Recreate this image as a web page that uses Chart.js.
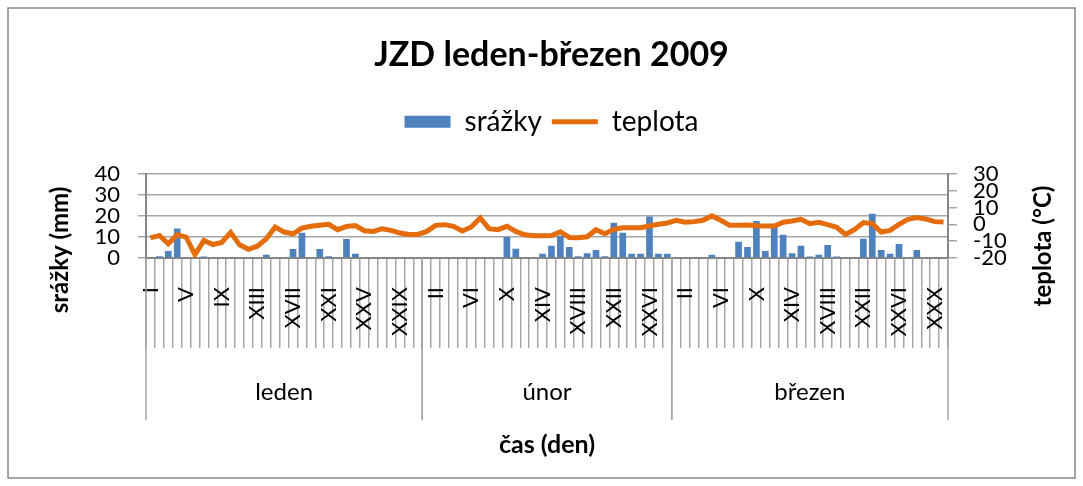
<!DOCTYPE html>
<html>
<head>
<meta charset="utf-8">
<script src="https://cdn.jsdelivr.net/npm/chart.js@4.4.1/dist/chart.umd.min.js"></script>
<style>
  html, body { margin: 0; padding: 0; background: #fff; }
</style>
</head>
<body>
<canvas id="graf" width="1083" height="486"></canvas>
<script>
// ---------- data ----------
const dnyRimsky = ['I','II','III','IV','V','VI','VII','VIII','IX','X','XI','XII','XIII','XIV','XV','XVI',
  'XVII','XVIII','XIX','XX','XXI','XXII','XXIII','XXIV','XXV','XXVI','XXVII','XXVIII','XXIX','XXX','XXXI'];
const mesice = ['leden', 'únor', 'březen'];
const delkyMesicu = [31, 28, 31];

// srážky (mm)
const srazkyLeden = [0,0.8,3.3,14,0,0,0.7,0,0,0,0,0,0,1.5,0,0,4.3,12,0,4.3,0.8,0,9,2,0,0,0,0,0,0,0];
const srazkyUnor = [0,0,0,0,0,0,0,0,0,10,4.4,0,0,2,5.8,10.6,5.2,0.8,2.3,3.8,0.8,16.7,12,2,2,19.7,2,2];
const srazkyBrezen = [0,0,0,0,1.5,0,0,7.7,5.2,17.6,3.3,15.5,11,2.3,5.8,0.7,1.5,6.2,0.7,0,0,9.2,21,3.8,2,6.7,0,3.8,0,0,0];

// teplota (°C)
const teplotaLeden = [-8.1,-6.6,-11.6,-6.2,-7.6,-18,-9.6,-12,-10.8,-4.8,-12.2,-14.8,-13,-8.6,-1.6,-4.6,
  -5.6,-2.2,-1.2,-0.6,0,-3.2,-1.2,-0.8,-3.8,-4.2,-2.6,-3.6,-5.2,-6,-6];
const teplotaUnor = [-4.2,-0.6,-0.2,-1.2,-4,-1.6,3.8,-2.6,-3.2,-1.2,-4.2,-6.2,-6.8,-6.8,-6.6,-4.4,
  -7.8,-8,-7.4,-3.2,-5.6,-3,-2,-2,-2,-1,0,0.8];
const teplotaBrezen = [2.4,1.2,1.6,2.4,5,2.4,-0.6,-0.6,-0.4,-0.8,-1,-1,1.2,2,3,0.4,1.2,-0.2,-1.8,-6,
  -3.2,1,0.4,-4.6,-3.6,0,3,4,3.2,1.6,1.4];

const popisky = [];
delkyMesicu.forEach(n => popisky.push(...dnyRimsky.slice(0, n)));
const srazky = [...srazkyLeden, ...srazkyUnor, ...srazkyBrezen];
const teplota = [...teplotaLeden, ...teplotaUnor, ...teplotaBrezen];

const MODRA = '#4f81bd';
const ORANZOVA = '#e46c0a';
const SEDA = '#a6a6a6';
const OSA = '#868686';
const PISMO = 'Lato';

// ---------- plugin: okraj, skupiny mesicu, nazvy os ----------
const ramecek = {
  id: 'ramecek',
  afterInit(chart) {
    // extra mezera pod legendou
    const fit = chart.legend.fit;
    chart.legend.fit = function () { fit.call(this); this.height += 28; };
  },
  beforeDraw(chart) {
    const ctx = chart.ctx;
    ctx.save();
    ctx.fillStyle = '#fff';
    ctx.fillRect(0, 0, chart.width, chart.height);
    ctx.strokeStyle = OSA;
    ctx.lineWidth = 1.5;
    ctx.strokeRect(8, 8, chart.width - 16, chart.height - 16);
    ctx.restore();
  },
  afterDraw(chart) {
    const {ctx, chartArea, scales: {x}} = chart;
    const pul = (x.getPixelForValue(1) - x.getPixelForValue(0)) / 2;
    ctx.save();
    ctx.strokeStyle = SEDA;
    ctx.lineWidth = 1.5;
    ctx.fillStyle = '#000';
    ctx.font = '24px ' + PISMO;
    ctx.textAlign = 'center';
    ctx.textBaseline = 'middle';
    let start = 0;
    mesice.forEach((m, k) => {
      const l = x.getPixelForValue(start) - pul;
      const r = x.getPixelForValue(start + delkyMesicu[k] - 1) + pul;
      [l, r].forEach(px => {
        ctx.beginPath();
        ctx.moveTo(px, chartArea.bottom);
        ctx.lineTo(px, chartArea.bottom + 162);
        ctx.stroke();
      });
      ctx.fillText(m, (l + r) / 2, chartArea.bottom + 134);
      start += delkyMesicu[k];
    });
    // nazvy svislych os
    ctx.font = 'bold 24px ' + PISMO;
    [['srážky (mm)', 60, 250], ['teplota (°C)', 1043, 246]].forEach(([t, px, py]) => {
      ctx.save();
      ctx.translate(px, py);
      ctx.rotate(-Math.PI / 2);
      ctx.fillText(t, 0, 0);
      ctx.restore();
    });
    ctx.restore();
  }
};

new Chart(document.getElementById('graf'), {
  type: 'bar',
  data: {
    labels: popisky,
    datasets: [
      {
        label: 'srážky',
        data: srazky,
        backgroundColor: MODRA,
        barPercentage: 0.75,
        categoryPercentage: 1,
        yAxisID: 'y',
        order: 2
      },
      {
        type: 'line',
        label: 'teplota',
        data: teplota,
        borderColor: ORANZOVA,
        backgroundColor: ORANZOVA,
        borderWidth: 5,
        pointRadius: 0,
        tension: 0,
        yAxisID: 'y1',
        order: 1
      }
    ]
  },
  options: {
    responsive: false,
    animation: false,
    devicePixelRatio: 1,
    layout: { padding: { left: 20, right: 0, top: 0, bottom: 0 } },
    plugins: {
      tooltip: { enabled: false },
      title: {
        display: true,
        text: 'JZD leden-březen 2009',
        color: '#000',
        font: { family: PISMO, size: 34, weight: 'bold' },
        padding: { top: 35, bottom: 22 }
      },
      legend: {
        display: true,
        labels: {
          color: '#000',
          font: { family: PISMO, size: 28 },
          usePointStyle: true,
          pointStyleWidth: 46,
          boxWidth: 46,
          boxHeight: 12,
          padding: 10,
          generateLabels(chart) {
            return chart.data.datasets.map((ds, i) => ({
              text: ds.label,
              datasetIndex: i,
              fillStyle: ds.type === 'line' ? ORANZOVA : MODRA,
              strokeStyle: ds.type === 'line' ? ORANZOVA : MODRA,
              lineWidth: ds.type === 'line' ? 5 : 0,
              pointStyle: ds.type === 'line' ? 'line' : 'rect',
              fontColor: '#000',
              hidden: false
            }));
          }
        }
      }
    },
    scales: {
      x: {
        offset: true,
        grid: { offset: true, drawOnChartArea: false, color: SEDA, lineWidth: 1.5, tickLength: 90 },
        border: { color: OSA, width: 2 },
        ticks: {
          autoSkip: false,
          minRotation: 90,
          maxRotation: 90,
          padding: -61,
          color: '#000',
          font: { family: PISMO, size: 22 },
          callback(v, i) { return i % 4 === 0 ? popisky[i] : ''; }
        },
        title: {
          display: true,
          text: 'čas (den)',
          color: '#000',
          font: { family: PISMO, size: 25, weight: 'bold' },
          padding: { top: 0, bottom: 26 }
        },
        afterFit(s) { s.height = 228; }
      },
      y: {
        position: 'left',
        min: 0,
        max: 40,
        ticks: { stepSize: 10, autoSkip: false, padding: 18, color: '#000', font: { family: PISMO, size: 22 } },
        grid: { color: SEDA, lineWidth: 1.5, tickLength: 8 },
        border: { color: OSA, width: 2 },
        afterFit(s) { s.width = 126; }
      },
      y1: {
        position: 'right',
        min: -20,
        max: 30,
        ticks: { stepSize: 10, autoSkip: false, padding: 16, color: '#000', font: { family: PISMO, size: 22 } },
        grid: { drawOnChartArea: false, color: SEDA, lineWidth: 1.5, tickLength: 9 },
        border: { color: OSA, width: 2 },
        afterFit(s) { s.width = 135; }
      }
    }
  },
  plugins: [ramecek]
});
</script>
</body>
</html>
